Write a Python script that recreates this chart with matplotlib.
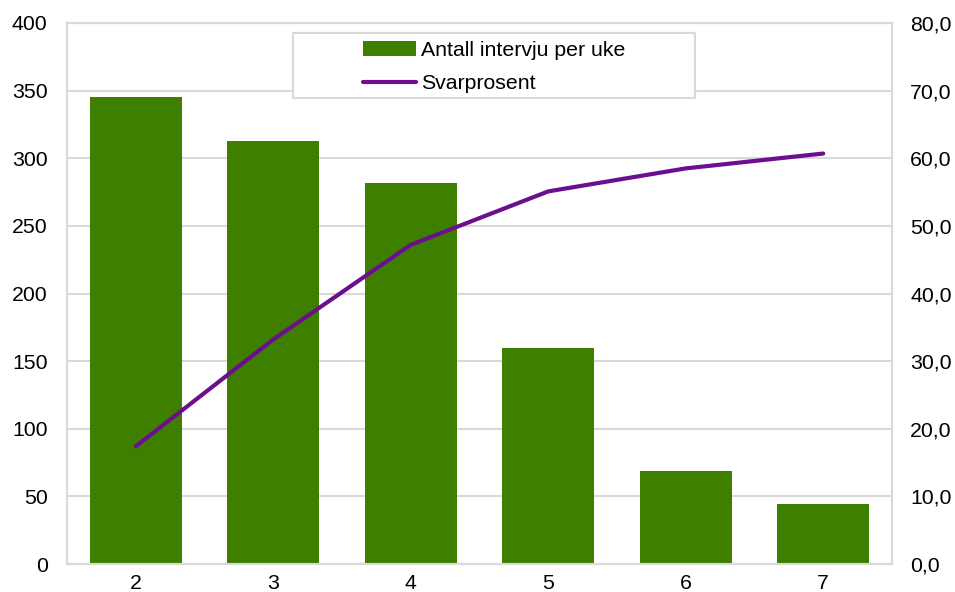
import matplotlib
matplotlib.use("Agg")
import matplotlib.pyplot as plt
from matplotlib.patches import Rectangle
from matplotlib.ticker import FuncFormatter

categories = ["2", "3", "4", "5", "6", "7"]
intervjuer = [345, 313, 282, 160, 69, 44]
svarprosent = [17.4, 33.2, 47.2, 55.1, 58.5, 60.7]
left_ticks = [0, 50, 100, 150, 200, 250, 300, 350, 400]
right_ticks = [0, 10, 20, 30, 40, 50, 60, 70, 80]

plt.rcParams['font.family'] = ['Liberation Sans', 'DejaVu Sans']
FS = 15.3
GRID = "#d9d9d9"
GREEN = "#3f7f00"
PURPLE = "#6c0f8f"

fig = plt.figure(figsize=(9.55, 5.92), dpi=100)
ax = fig.add_axes([67/955, 28/592, 825/955, 541/592])
ax2 = ax.twinx()

x = list(range(len(categories)))
ax.bar(x, intervjuer, width=0.67, color=GREEN, zorder=3, label="Antall intervju per uke")
ax.set_xlim(-0.5, len(categories) - 0.5)
ax.set_ylim(0, 400)
ax.set_yticks(left_ticks)
ax.set_xticks(x)
ax.set_xticklabels(categories)
ax.yaxis.grid(True, color=GRID, linewidth=1.5, zorder=0)
ax.set_axisbelow(True)

ax2.plot(x, svarprosent, color=PURPLE, linewidth=3, solid_capstyle='round', zorder=4, label="Svarprosent")
ax2.set_ylim(0, 80)
ax2.set_yticks(right_ticks)
ax2.yaxis.set_major_formatter(FuncFormatter(lambda v, p: f"{v:.1f}".replace(".", ",")))

for a in (ax, ax2):
    for s in a.spines.values():
        s.set_color(GRID)
        s.set_linewidth(1.5)
    a.tick_params(length=0, labelsize=FS, colors="black")
ax.tick_params(axis='y', pad=14)
ax.tick_params(axis='x', pad=7)
ax2.tick_params(axis='y', pad=13)

# legend box (Excel style)
fig.patches.append(Rectangle((293/955, 1 - 98/592), (695-293)/955, (98-33)/592,
                             transform=fig.transFigure, facecolor="white",
                             edgecolor=GRID, linewidth=1.5, zorder=10))
h1, l1 = ax.get_legend_handles_labels()
h2, l2 = ax2.get_legend_handles_labels()
leg = fig.legend(h1 + h2, l1 + l2, loc="center", bbox_to_anchor=(494/955, 1 - 67/592),
                 frameon=False, fontsize=FS, handlelength=2.5, handletextpad=0.25,
                 labelspacing=0.7, borderaxespad=0)
leg.set_zorder(11)

fig.savefig("out.png", dpi=100)
